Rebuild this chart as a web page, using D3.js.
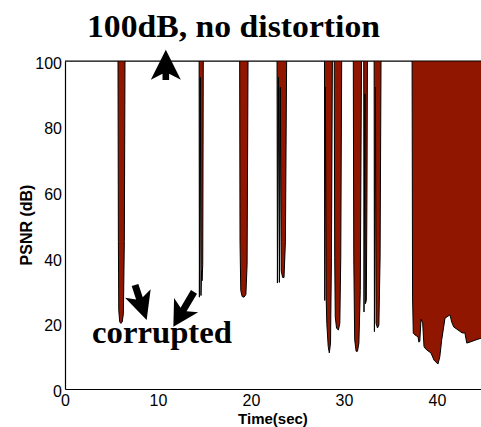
<!DOCTYPE html>
<html>
<head>
<meta charset="utf-8">
<script src="https://cdn.jsdelivr.net/npm/d3@7/dist/d3.min.js"></script>
<style>
  html, body { margin: 0; padding: 0; background: #fff; }
  svg { display: block; }
</style>
</head>
<body>
<svg id="chart" width="481" height="427"></svg>
<script>
// ---- data ----
const timeSec = [
  0, 5.70, 5.74, 5.78, 5.88, 6.00, 6.15, 6.28, 6.38, 6.45,
  14.42, 14.45, 14.55, 14.62, 14.68, 14.74, 14.81, 14.87,
  18.78, 18.82, 18.90, 19.05, 19.25, 19.45, 19.58, 19.68,
  22.80, 22.84, 22.95, 23.05, 23.15, 23.25, 23.40, 23.55, 23.70, 23.83,
  27.90, 27.93, 28.00, 28.08, 28.15, 28.30, 28.42, 28.55, 28.65, 28.75,
  28.95, 29.00, 29.06, 29.20, 29.40, 29.55, 29.65, 29.75,
  31.00, 31.05, 31.15, 31.30, 31.45, 31.60, 31.75, 31.88,
  32.12, 32.15, 32.25, 32.30, 32.40, 32.47, 32.52,
  33.24, 33.27, 33.38, 33.45, 33.60, 33.75, 33.88, 33.98,
  37.32, 37.37, 37.45, 37.63, 37.96, 38.05, 38.15, 38.28, 38.46, 38.60,
  38.70, 38.90, 39.35, 39.68, 40.10, 40.30, 40.50, 40.86, 41.40, 41.58,
  41.80, 42.26, 42.70, 43.00, 43.20, 43.55, 44.10, 44.73
];
const psnrDb = [
  100, 100, 45, 24, 20.5, 20, 20.4, 23, 45, 100,
  100, 28, 95, 28.5, 36, 33, 38, 100,
  100, 45, 30, 28.2, 28, 28.8, 38, 100,
  100, 32.3, 95, 32.5, 92, 36, 34, 34, 45, 100,
  100, 27, 92, 28, 20, 13, 11, 14, 40, 100,
  100, 40, 22, 18.5, 18, 20, 40, 100,
  100, 40, 15, 11.5, 11.5, 14, 30, 100,
  100, 23.5, 90, 26, 27, 60, 100,
  100, 17.5, 92, 20, 18.6, 19.5, 40, 100,
  100, 28, 17, 16.5, 15.9, 14.3, 14.5, 21.3, 20.1, 13,
  12.5, 11.9, 11.0, 8.8, 7.6, 9.8, 14.9, 21.6, 22.6, 20.4,
  18.9, 18.0, 17.1, 17.1, 14.0, 14.3, 14.9, 15.5
];
const xDomain = [0, 44.73];
const yDomain = [0, 100];
const xTicks = [0, 10, 20, 30, 40];
const yTicks = [0, 20, 40, 60, 80, 100];
const titleText = "100dB, no distortion";
const noteText = "corrupted";
const xLabel = "Time(sec)";
const yLabel = "PSNR (dB)";
// annotation arrows in data units: [time, dB]
const arrowUpTip = [10.84, 103.4], arrowUpTail = [10.84, 94.2];
const arrow1Tip = [8.78, 21.0], arrow1Tail = [7.53, 31.7];
const arrow2Tip = [11.65, 19.0], arrow2Tail = [13.87, 29.6];

// ---- layout ----
const svg = d3.select("#chart");
const L = 65, R = 481, T = 61, B = 389;
const x = d3.scaleLinear().domain(xDomain).range([L, R]);
const y = d3.scaleLinear().domain(yDomain).range([B, T]);
const red = "#911600";

const pts = timeSec.map((t, i) => ({t, v: psnrDb[i]}));

svg.append("clipPath").attr("id", "clip")
  .append("rect").attr("x", L).attr("y", T).attr("width", R - L + 5).attr("height", B - T);

const g = svg.append("g").attr("clip-path", "url(#clip)");

g.append("path").datum(pts)
  .attr("fill", red)
  .attr("d", d3.area().x(d => x(d.t)).y0(y(100)).y1(d => y(d.v)));

g.append("path").datum(pts)
  .attr("fill", "none").attr("stroke", "#000").attr("stroke-width", 1)
  .attr("stroke-linejoin", "round")
  .attr("d", d3.line().x(d => x(d.t)).y(d => y(d.v)));

// top border
svg.append("line").attr("x1", L).attr("x2", R + 5).attr("y1", T).attr("y2", T)
  .attr("stroke", "#000").attr("stroke-width", 1.2);

// axes
const fontSans = "'Liberation Sans', Arial, Helvetica, sans-serif";
const yAxis = svg.append("g").attr("transform", `translate(${L},0)`)
  .call(d3.axisLeft(y).tickValues(yTicks).tickSize(0).tickPadding(3).tickFormat(d3.format("d")));
const xAxis = svg.append("g").attr("transform", `translate(0,${B})`)
  .call(d3.axisBottom(x).tickValues(xTicks).tickSize(0).tickPadding(6).tickFormat(d3.format("d")));
[xAxis, yAxis].forEach(a => {
  a.select(".domain").attr("stroke", "#000").attr("stroke-width", 1.2);
  a.selectAll("text").attr("font-family", fontSans).attr("font-size", 16).attr("fill", "#000");
});
yAxis.selectAll(".tick text").attr("dy", "0.45em");

svg.append("text").attr("x", (L + R) / 2).attr("y", 424)
  .attr("text-anchor", "middle").attr("font-family", fontSans)
  .attr("font-weight", "bold").attr("font-size", 15).text(xLabel);

svg.append("text").attr("transform", `translate(32,${(T + B) / 2}) rotate(-90)`)
  .attr("text-anchor", "middle").attr("font-family", fontSans)
  .attr("font-weight", "bold").attr("font-size", 16).text(yLabel);

// annotations
const fontSerif = "'Liberation Serif', 'Times New Roman', serif";
svg.append("text").attr("x", 87).attr("y", 37)
  .attr("font-family", fontSerif).attr("font-weight", "bold").attr("font-size", 32)
  .attr("textLength", 293).attr("lengthAdjust", "spacingAndGlyphs").text(titleText);
svg.append("text").attr("x", 92).attr("y", 343)
  .attr("font-family", fontSerif).attr("font-weight", "bold").attr("font-size", 32)
  .attr("textLength", 140).attr("lengthAdjust", "spacingAndGlyphs").text(noteText);

function arrow(tip, tail, headLen, halfW, notch, shaftHalf) {
  const tx = x(tip[0]), ty = y(tip[1]), sx = x(tail[0]), sy = y(tail[1]);
  const len = Math.hypot(tx - sx, ty - sy);
  const ux = (tx - sx) / len, uy = (ty - sy) / len;
  const nx = -uy, ny = ux;
  const P = (a, b) => [tx - ux * a + nx * b, ty - uy * a + ny * b];
  const Q = (b) => [sx + nx * b, sy + ny * b];
  const p = [[tx, ty], P(headLen, halfW), P(headLen - notch, shaftHalf), Q(shaftHalf),
             Q(-shaftHalf), P(headLen - notch, -shaftHalf), P(headLen, -halfW)];
  svg.append("path").attr("d", "M" + p.map(q => q.join(",")).join("L") + "Z").attr("fill", "#000");
}
arrow(arrowUpTip, arrowUpTail, 30, 15, 6, 3.3);
arrow(arrow1Tip, arrow1Tail, 28, 13.5, 5, 3.5);
arrow(arrow2Tip, arrow2Tail, 25, 14, 5, 3.5);
</script>
</body>
</html>
